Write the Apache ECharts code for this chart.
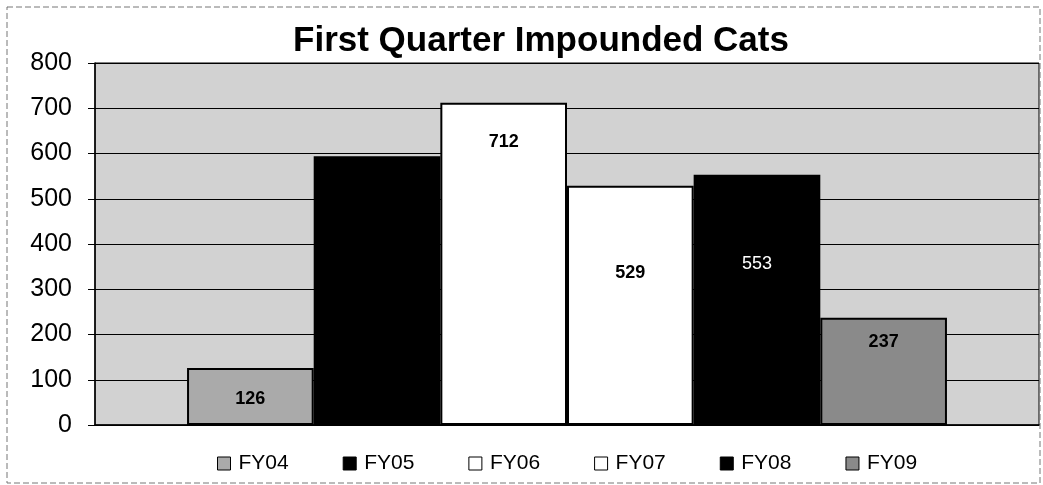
<!DOCTYPE html>
<html>
<head>
<meta charset="utf-8">
<script src="https://cdn.jsdelivr.net/npm/echarts@6/dist/echarts.min.js"></script>
<style>
  html, body { margin: 0; padding: 0; background: #fff; }
  #chart { width: 1043px; height: 485px; }
</style>
</head>
<body>
<div id="chart"></div>
<script>
const category = ['Q1']
const seriesNames = ['FY04', 'FY05', 'FY06', 'FY07', 'FY08', 'FY09']
const seriesValues = [126, 594, 712, 529, 553, 237]
const yTicks = [0, 100, 200, 300, 400, 500, 600, 700, 800]

// fill / label look for each fiscal year
const fills = ['#aaaaaa', '#000000', '#ffffff', '#ffffff', '#000000', '#8a8a8a']
const labelColors = ['#000', '#000', '#000', '#000', '#fff', '#000']
const labelBold = ['bold', 'bold', 'bold', 'bold', 'normal', 'bold']
const labelDist = [22, 30, 30, 78, 80, 15]

const chart = echarts.init(document.getElementById('chart'))

const series = seriesNames.map((name, i) => ({
  name,
  type: 'bar',
  data: [seriesValues[i]],
  barGap: 0,
  barCategoryGap: '19.5%',
  itemStyle: { color: fills[i], borderColor: '#000', borderWidth: 2 },
  label: {
    show: true,
    position: 'insideTop',
    distance: labelDist[i],
    color: labelColors[i],
    fontFamily: 'Arial, Liberation Sans',
    fontWeight: labelBold[i],
    fontSize: 18,
  },
}))

chart.setOption({
  animation: false,
  title: {
    text: 'First Quarter Impounded Cats',
    left: 536,
    textAlign: 'center',
    top: 19,
    textStyle: { fontFamily: 'Arial, Liberation Sans', fontWeight: 'bold', fontSize: 35, color: '#000' },
  },
  legend: {
    top: 448,
    left: 212,
    itemGap: 54,
    itemWidth: 13,
    itemHeight: 13,
    icon: 'rect',
    textStyle: { fontFamily: 'Arial, Liberation Sans', fontSize: 21, color: '#000', padding: [0, 0, 0, 3] },
    itemStyle: { borderColor: '#000', borderWidth: 1 },
    data: seriesNames,
  },
  grid: {
    left: 95,
    right: 4,
    top: 63,
    bottom: 60,
    show: true,
    backgroundColor: '#d2d2d2',
    borderColor: '#000',
    borderWidth: 1,
  },
  xAxis: {
    type: 'category',
    data: category,
    axisLine: { lineStyle: { color: '#000', width: 1.5 } },
    axisTick: { show: false },
    axisLabel: { show: false },
  },
  yAxis: {
    type: 'value',
    min: yTicks[0],
    max: yTicks[yTicks.length - 1],
    interval: 100,
    axisLine: { show: true, lineStyle: { color: '#000', width: 1.5 } },
    axisTick: { show: true, length: 7, lineStyle: { color: '#000' } },
    axisLabel: { fontFamily: 'Arial, Liberation Sans', fontSize: 25, color: '#000', margin: 23 },
    splitLine: { lineStyle: { color: '#000', width: 1.2 } },
  },
  graphic: [{
    type: 'rect',
    shape: { x: 7, y: 7, width: 1033, height: 476 },
    style: { fill: 'none', stroke: '#777', lineWidth: 1, lineDash: [6, 3] },
    silent: true,
  }],
  series,
})
</script>
</body>
</html>
